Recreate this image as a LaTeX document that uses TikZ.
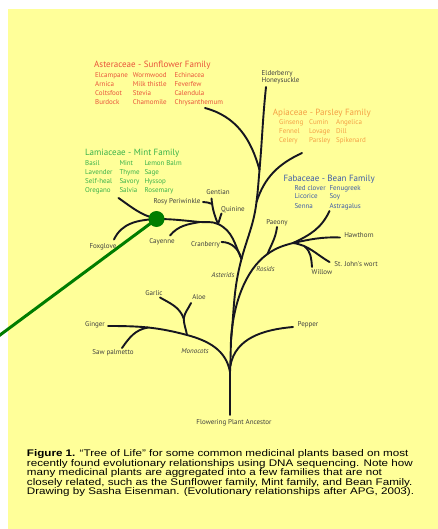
\documentclass[tikz,border=0pt]{standalone}
\usepackage{fontspec}
\setmainfont{Liberation Sans}
\newfontfamily\treefont{PT Sans}
\definecolor{paper}{RGB}{255,255,153}
\definecolor{sunred}{RGB}{233,83,58}
\definecolor{mintgreen}{RGB}{58,178,74}
\definecolor{parsleyorange}{RGB}{244,160,68}
\definecolor{beanblue}{RGB}{62,92,168}
\definecolor{twig}{RGB}{22,22,32}
\definecolor{lbltext}{RGB}{64,64,64}
\definecolor{pointer}{RGB}{0,125,0}

\begin{document}
\begin{tikzpicture}[x=1pt,y=-1pt,
  branch/.style={draw=twig, line width=1.9pt, line cap=round},
  lbl/.style={font=\treefont\fontsize{7}{7.4}\selectfont, text=lbltext, inner sep=0pt, anchor=base},
  clade/.style={lbl, font=\treefont\itshape\fontsize{7}{7.4}\selectfont},
  famhead/.style={font=\treefont\fontsize{9}{10}\selectfont, inner sep=0pt, anchor=base west},
  famitem/.style={font=\treefont\fontsize{7}{8}\selectfont, inner sep=0pt, anchor=base west}]

  % Hintergrund
  \fill[paper] (8,9) rectangle (438,529);
  \useasboundingbox (0,0) rectangle (438,529);

  % Verzweigungspunkte und Astenden
  \coordinate (root) at (230,415);
  \coordinate (j0) at (230,372);
  \coordinate (jpep) at (230.3,366);
  \coordinate (jeu) at (231,340);
  \coordinate (jmono) at (187,335);
  \coordinate (jsaw) at (148,327.5);
  \coordinate (jga) at (183.7,318.5);
  \coordinate (gingerend) at (108,326);
  \coordinate (sawend) at (122,348);
  \coordinate (garlicend) at (160,297.5);
  \coordinate (aloeend) at (191,303);
  \coordinate (pepperend) at (293,327);
  \coordinate (jcran) at (241.5,259);
  \coordinate (japi) at (256.5,202);
  \coordinate (jsun) at (259.5,170);
  \coordinate (eldend) at (266,87);
  \coordinate (sunend) at (205,108);
  \coordinate (apiend) at (302,153);
  \coordinate (jpae) at (267.5,254);
  \coordinate (jhaw) at (293,243);
  \coordinate (jwil) at (304.7,246.6);
  \coordinate (paeend) at (277,227);
  \coordinate (hawend) at (340,237.5);
  \coordinate (fabend) at (329.5,211);
  \coordinate (stjend) at (329.5,262);
  \coordinate (wilend) at (312,267);
  \coordinate (cranend) at (221.5,242);
  \coordinate (jgen) at (218,224);
  \coordinate (jper) at (212.3,204);
  \coordinate (jcay) at (200,222);
  \coordinate (jdot) at (156.5,219);
  \coordinate (genend) at (211.5,198.5);
  \coordinate (perend) at (203,202);
  \coordinate (quiend) at (221.5,213.5);
  \coordinate (cayend) at (170,235.5);
  \coordinate (mintend) at (118.5,198);
  \coordinate (foxend) at (114,239.5);
  \coordinate (penstart) at (-2,336.5);

  % Stamm und Monokotyle
  \draw[branch] (root) -- (j0) -- (jpep) -- (jeu);
  \draw[branch] (j0) to[out=100,in=-15] (jmono) to[out=165,in=0] (gingerend);
  \draw[branch] (jsaw) to[out=190,in=55] (sawend);
  \draw[branch] (jmono) to[out=100,in=-88] (jga);
  \draw[branch] (jga) to[out=110,in=-30] (garlicend);
  \draw[branch] (jga) to[out=80,in=-115] (aloeend);
  \draw[branch] (jpep) to[out=80,in=185] (pepperend);

  % Asteriden
  \draw[branch] (jeu) to[out=84,in=-105] (jcran) to[out=75,in=-97] (japi)
    to[out=83,in=-95] (jsun) to[out=85,in=-96] (eldend);
  \draw[branch] (jsun) to[out=105,in=-15] (sunend);
  \draw[branch] (japi) to[out=72,in=-155] (apiend);
  \draw[branch] (jcran) to[out=105,in=0] (cranend);
  \draw[branch] (jcran) to[out=115,in=-25] (jgen) to[out=155,in=-5] (jcay)
    to[out=175,in=0] (jdot);
  \draw[branch] (jgen) to[out=112,in=-85] (genend);
  \draw[branch] (jper) to[out=150,in=-10] (perend);
  \draw[branch] (jgen) to[out=70,in=-110] (quiend);
  \draw[branch] (jcay) to[out=190,in=50] (cayend);
  \draw[branch] (jdot) to[out=165,in=-35] (mintend);
  \draw[branch] (jdot) to[out=183,in=65] (foxend);

  % Rosiden
  \draw[branch] (jeu) .. controls (233,305) and (245,270) .. (jpae)
    to[out=35,in=-165] (jhaw) to[out=12,in=178] (hawend);
  \draw[branch] (jpae) to[out=68,in=-97] (paeend);
  \draw[branch] (jhaw) to[out=25,in=-115] (fabend);
  \draw[branch] (jhaw) to[out=-8,in=150] (stjend);
  \draw[branch] (jwil) to[out=-40,in=95] (wilend);

  % Zeiger
  \draw[pointer, line width=3pt] (penstart) -- (jdot);
  \node[circle, fill=pointer, minimum size=16pt, inner sep=0pt] (dotmark) at (jdot) {};

  % Beschriftungen
  \node[lbl, align=left, anchor=north west] (elder) at (261.5,70.2) {Elderberry\\Honeysuckle};
  \node[lbl] (gentian) at (218,194.5) {Gentian};
  \node[lbl] (periwinkle) at (177,203.9) {Rosy Periwinkle};
  \node[lbl] (quinine) at (233,211.5) {Quinine};
  \node[lbl] (foxglove) at (103,248.2) {Foxglove};
  \node[lbl] (cayenne) at (162,243.9) {Cayenne};
  \node[lbl] (cranberry) at (205.5,246.2) {Cranberry};
  \node[clade] (asterids) at (223,277.9) {Asterids};
  \node[lbl] (paeony) at (277,224.2) {Paeony};
  \node[lbl] (hawthorn) at (359,237.9) {Hawthorn};
  \node[lbl] (stjohn) at (356,266.2) {St. John's wort};
  \node[lbl] (willow) at (322,274.9) {Willow};
  \node[clade] (rosids) at (265.5,271.9) {Rosids};
  \node[lbl] (garlic) at (154,295.5) {Garlic};
  \node[lbl] (aloe) at (199,299.5) {Aloe};
  \node[lbl] (ginger) at (95,326.5) {Ginger};
  \node[lbl] (sawpalm) at (113,354.5) {Saw palmetto};
  \node[clade] (monocots) at (195,353.5) {Monocots};
  \node[lbl] (pepper) at (308,326.5) {Pepper};
  \node[lbl] (ancestor) at (234,424.9) {Flowering Plant Ancestor};

  % Asteraceae
  \node[famhead, text=sunred] (asthead) at (94,68) {Asteraceae - Sunflower Family};
  \foreach \plant [count=\i] in {Elcampane,Arnica,Coltsfoot,Burdock}
    \node[famitem, text=sunred] (asta-\i) at (95,68.5+9*\i) {\plant};
  \foreach \plant [count=\i] in {Wormwood,Milk thistle,Stevia,Chamomile}
    \node[famitem, text=sunred] (astb-\i) at (132.7,68.5+9*\i) {\plant};
  \foreach \plant [count=\i] in {Echinacea,Feverfew,Calendula,Chrysanthemum}
    \node[famitem, text=sunred] (astc-\i) at (174.3,68.5+9*\i) {\plant};

  % Lamiaceae
  \node[famhead, text=mintgreen] (lamhead) at (85,155.3) {Lamiaceae - Mint Family};
  \foreach \plant [count=\i] in {Basil,Lavender,Self-heal,Oregano}
    \node[famitem, text=mintgreen] (lama-\i) at (85,156.6+9*\i) {\plant};
  \foreach \plant [count=\i] in {Mint,Thyme,Savory,Salvia}
    \node[famitem, text=mintgreen] (lamb-\i) at (119.3,156.6+9*\i) {\plant};
  \foreach \plant [count=\i] in {Lemon Balm,Sage,Hyssop,Rosemary}
    \node[famitem, text=mintgreen] (lamc-\i) at (144.3,156.6+9*\i) {\plant};

  % Apiaceae
  \node[famhead, text=parsleyorange] (apihead) at (272.7,115.3) {Apiaceae - Parsley Family};
  \foreach \plant [count=\i] in {Ginseng,Fennel,Celery}
    \node[famitem, text=parsleyorange] (apia-\i) at (279,116+9*\i) {\plant};
  \foreach \plant [count=\i] in {Cumin,Lovage,Parsley}
    \node[famitem, text=parsleyorange] (apib-\i) at (309,116+9*\i) {\plant};
  \foreach \plant [count=\i] in {Angelica,Dill,Spikenard}
    \node[famitem, text=parsleyorange] (apic-\i) at (336,116+9*\i) {\plant};

  % Fabaceae
  \node[famhead, text=beanblue] (fabhead) at (283.3,181.3) {Fabaceae - Bean Family};
  \foreach \plant [count=\i] in {Red clover,Licorice,Senna}
    \node[famitem, text=beanblue] (faba-\i) at (294.3,181+9*\i) {\plant};
  \foreach \plant [count=\i] in {Fenugreek,Soy,Astragalus}
    \node[famitem, text=beanblue] (fabb-\i) at (329.3,181+9*\i) {\plant};

  % Bildunterschrift
  \begin{scope}[shift={(26.7,449.2)}, xscale=1.212]
    \node[transform shape, anchor=north west, align=left, inner sep=0pt,
      font=\fontsize{9.6}{9.65}\selectfont] (caption) at (0,0)
      {\textbf{Figure 1.} “Tree of Life” for some common medicinal plants based on most\\
       recently found evolutionary relationships using DNA sequencing. Note how\\
       many medicinal plants are aggregated into a few families that are not\\
       closely related, such as the Sunflower family, Mint family, and Bean Family.\\
       Drawing by Sasha Eisenman. (Evolutionary relationships after APG, 2003).};
  \end{scope}
\end{tikzpicture}
\end{document}
